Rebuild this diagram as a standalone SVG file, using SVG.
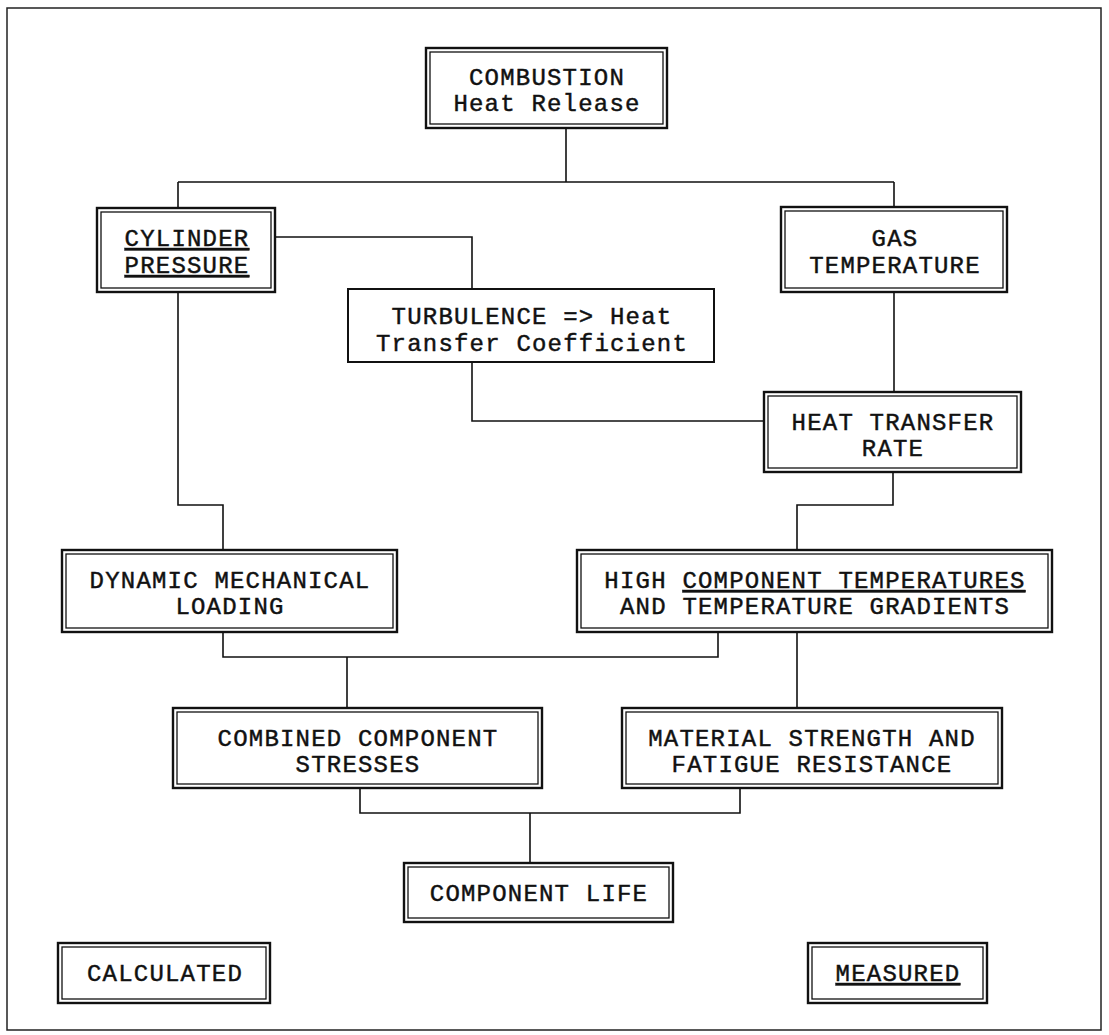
<svg xmlns="http://www.w3.org/2000/svg" width="1109" height="1035" viewBox="0 0 1109 1035">
<style>
.o{fill:#fff;stroke:#111;stroke-width:2.4}
.i{fill:none;stroke:#111;stroke-width:1.3}
.s{fill:#fff;stroke:#111;stroke-width:2}
.t{font-family:"Liberation Mono","DejaVu Sans Mono",monospace;font-size:24px;letter-spacing:1.2px;fill:#111;stroke:#111;stroke-width:0.45;text-anchor:middle}
.u{text-decoration:underline}
.c{fill:none;stroke:#111;stroke-width:1.6}
</style>
<rect x="0" y="0" width="1109" height="1035" fill="#fff"/>
<rect x="7" y="8" width="1094" height="1022" fill="none" stroke="#222" stroke-width="1.5"/>
<g id="connectors" class="c">
<path d="M566 128V182M178 182H894M178 182V208M894 182V207"/>
<path d="M275 237H472V289"/>
<path d="M472 362V421H764"/>
<path d="M894 292V392"/>
<path d="M893 472V505H797V550"/>
<path d="M178 292V505H223V550"/>
<path d="M223 632V657H718V632M347 657V708"/>
<path d="M797 632V708"/>
<path d="M360 788V813H740V788M530 813V863"/>
</g>
<g id="combustion"><rect class="o" x="426" y="48" width="241" height="80"/><rect class="i" x="430" y="52" width="233" height="72"/>
<text class="t" x="547" y="85">COMBUSTION</text><text class="t" x="547" y="111">Heat Release</text></g>
<g id="cylinder"><rect class="o" x="97" y="208" width="178" height="84"/><rect class="i" x="101" y="212" width="170" height="76"/>
<text class="t u" x="187" y="246">CYLINDER</text><text class="t u" x="187" y="273">PRESSURE</text></g>
<g id="gas"><rect class="o" x="781" y="207" width="226" height="85"/><rect class="i" x="785" y="211" width="218" height="77"/>
<text class="t" x="895" y="246">GAS</text><text class="t" x="895" y="273">TEMPERATURE</text></g>
<g id="turbulence"><rect class="s" x="348" y="289" width="366" height="73"/>
<text class="t" x="532" y="324">TURBULENCE =&gt; Heat</text><text class="t" x="532" y="351">Transfer Coefficient</text></g>
<g id="heat-transfer"><rect class="o" x="764" y="392" width="257" height="80"/><rect class="i" x="768" y="396" width="249" height="72"/>
<text class="t" x="893" y="430">HEAT TRANSFER</text><text class="t" x="893" y="456">RATE</text></g>
<g id="dynamic"><rect class="o" x="62" y="550" width="335" height="82"/><rect class="i" x="66" y="554" width="327" height="74"/>
<text class="t" x="230" y="588">DYNAMIC MECHANICAL</text><text class="t" x="230" y="614">LOADING</text></g>
<g id="high-temp"><rect class="o" x="577" y="550" width="475" height="82"/><rect class="i" x="581" y="554" width="467" height="74"/>
<text class="t" x="815" y="588">HIGH <tspan class="u">COMPONENT TEMPERATURES</tspan></text><text class="t" x="815" y="614">AND TEMPERATURE GRADIENTS</text></g>
<g id="combined"><rect class="o" x="173" y="708" width="369" height="80"/><rect class="i" x="177" y="712" width="361" height="72"/>
<text class="t" x="358" y="746">COMBINED COMPONENT</text><text class="t" x="358" y="772">STRESSES</text></g>
<g id="material"><rect class="o" x="622" y="708" width="380" height="80"/><rect class="i" x="626" y="712" width="372" height="72"/>
<text class="t" x="812" y="746">MATERIAL STRENGTH AND</text><text class="t" x="812" y="772">FATIGUE RESISTANCE</text></g>
<g id="component-life"><rect class="o" x="404" y="863" width="269" height="59"/><rect class="i" x="408" y="867" width="261" height="51"/>
<text class="t" x="539" y="901">COMPONENT LIFE</text></g>
<g id="calculated"><rect class="o" x="58" y="943" width="212" height="60"/><rect class="i" x="62" y="947" width="204" height="52"/>
<text class="t" x="165" y="981">CALCULATED</text></g>
<g id="measured"><rect class="o" x="808" y="943" width="179" height="60"/><rect class="i" x="812" y="947" width="171" height="52"/>
<text class="t u" x="898" y="981">MEASURED</text></g>
</svg>
